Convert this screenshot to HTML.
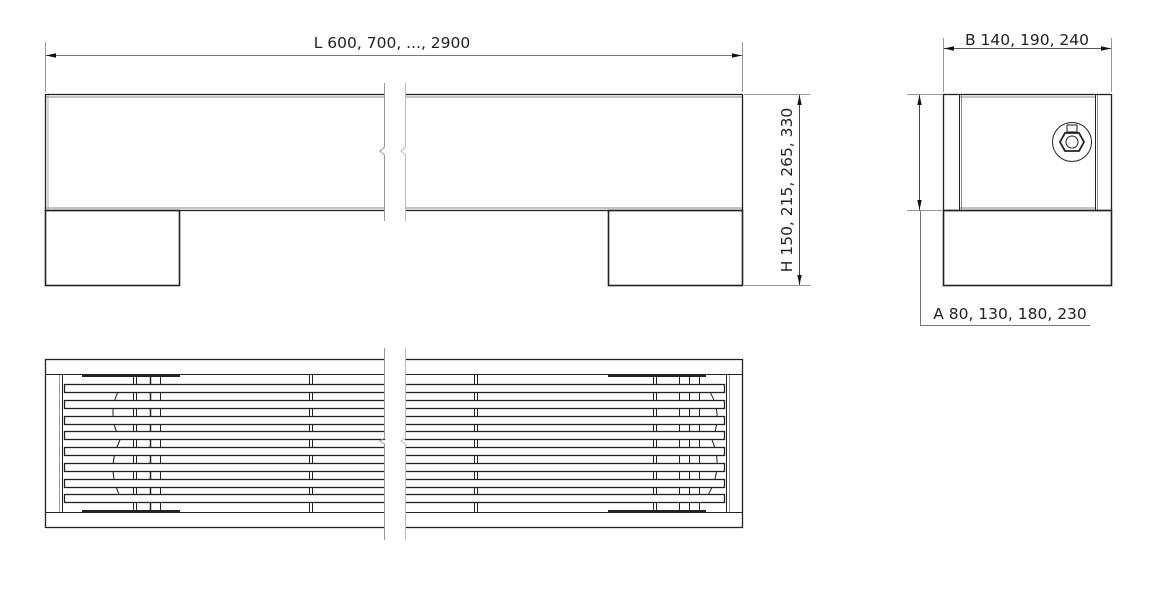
<!DOCTYPE html>
<html><head><meta charset="utf-8"><style>
html,body{margin:0;padding:0;background:#fff;}
svg{display:block;}
text{font-family:"DejaVu Sans","Liberation Sans",sans-serif;font-size:15.5px;fill:#222;}
</style></head><body>
<svg width="1170" height="596" viewBox="0 0 1170 596" xmlns="http://www.w3.org/2000/svg">
<defs>
<marker id="a" markerWidth="10" markerHeight="6" refX="10" refY="3" orient="auto-start-reverse" markerUnits="userSpaceOnUse"><path d="M0,0.8 L10,3 L0,5.2 z" fill="#111"/></marker>
</defs>
<g fill="none" stroke="#999" stroke-width="1">
 <line x1="45.5" y1="42" x2="45.5" y2="92"/>
 <line x1="742.5" y1="42" x2="742.5" y2="92"/>
 <line x1="46" y1="55.5" x2="742" y2="55.5" marker-start="url(#a)" marker-end="url(#a)" stroke="#777"/>
 <line x1="744" y1="94.5" x2="810" y2="94.5"/>
 <line x1="744" y1="285.5" x2="810" y2="285.5"/>
 <line x1="799.5" y1="95" x2="799.5" y2="285" marker-start="url(#a)" marker-end="url(#a)" stroke="#444"/>
</g>
<text x="392" y="48" text-anchor="middle">L 600, 700, ..., 2900</text>
<text transform="translate(792,190) rotate(-90)" text-anchor="middle">H 150, 215, 265, 330</text>

<g stroke="#222" fill="none">
 <rect x="45.5" y="94.5" width="697" height="116" stroke-width="1.3"/>
 <line x1="46" y1="97" x2="742" y2="97" stroke="#888"/>
 <line x1="46" y1="208" x2="742" y2="208" stroke="#888"/>
 <line x1="48" y1="95" x2="48" y2="210" stroke="#aaa"/>
 <rect x="45.5" y="210.5" width="134" height="75" stroke-width="1.6"/>
 <rect x="608.5" y="210.5" width="134" height="75" stroke-width="1.6"/>
</g>
<rect x="385" y="80" width="20" height="145" fill="#fff"/>
<g stroke="#999" fill="none" stroke-width="1">
 <path d="M384.5,83 V147 L380,151 L384.5,155 V221"/>
 <path d="M405.5,83 V147 L401,151 L405.5,155 V221" stroke="#bbb"/>
</g>

<g fill="none" stroke="#999">
 <line x1="943.5" y1="38" x2="943.5" y2="92"/>
 <line x1="1111.5" y1="38" x2="1111.5" y2="92"/>
 <line x1="944" y1="48.5" x2="1111" y2="48.5" marker-start="url(#a)" marker-end="url(#a)" stroke="#555"/>
 <line x1="907" y1="94.5" x2="942" y2="94.5"/>
 <line x1="907" y1="210.5" x2="942" y2="210.5"/>
 <line x1="919.5" y1="95" x2="919.5" y2="210" marker-start="url(#a)" marker-end="url(#a)" stroke="#444"/>
 <line x1="920.5" y1="211" x2="920.5" y2="325.5" stroke="#777"/>
 <line x1="920" y1="325.5" x2="1090" y2="325.5" stroke="#777"/>
</g>
<text x="1027" y="45" text-anchor="middle">B 140, 190, 240</text>
<text x="1010" y="319" text-anchor="middle">A 80, 130, 180, 230</text>
<g stroke="#222" fill="none">
 <rect x="943.5" y="94.5" width="168" height="116" stroke-width="1.3"/>
 <line x1="959.5" y1="95" x2="959.5" y2="210"/>
 <line x1="961.5" y1="95" x2="961.5" y2="210" stroke="#888"/>
 <line x1="1095.5" y1="95" x2="1095.5" y2="210"/>
 <line x1="1097.5" y1="95" x2="1097.5" y2="210" stroke="#888"/>
 <line x1="960" y1="97" x2="1095" y2="97" stroke="#888"/>
 <line x1="960" y1="208" x2="1095" y2="208" stroke="#888"/>
 <rect x="943.5" y="210.5" width="168" height="75" stroke-width="1.6"/>
 <circle cx="1072" cy="142" r="19.5" stroke-width="1"/>
 <polygon points="1065,133 1079,133 1084,142 1079,151 1065,151 1060,142" stroke-width="1.8"/>
 <circle cx="1072" cy="142" r="6"/>
 <rect x="1067" y="125" width="10" height="7" stroke-width="1"/>
</g>

<g stroke="#222" fill="none">
 <rect x="45.5" y="359.5" width="697" height="168" stroke-width="1.3"/>
 <line x1="46" y1="374.5" x2="742" y2="374.5"/>
 <line x1="46" y1="512.5" x2="742" y2="512.5"/>
 <line x1="62.5" y1="375" x2="62.5" y2="512"/>
 <line x1="59.5" y1="375" x2="59.5" y2="512" stroke="#999"/>
 <line x1="726.5" y1="375" x2="726.5" y2="512"/>
 <line x1="729.5" y1="375" x2="729.5" y2="512" stroke="#999"/>
 <line x1="82" y1="376" x2="180" y2="376" stroke-width="2"/>
 <line x1="82" y1="511" x2="180" y2="511" stroke-width="2"/>
 <line x1="608" y1="376" x2="706" y2="376" stroke-width="2"/>
 <line x1="608" y1="511" x2="706" y2="511" stroke-width="2"/>
 <line x1="309.5" y1="375" x2="309.5" y2="512"/><line x1="312.5" y1="375" x2="312.5" y2="512"/>
 <line x1="474.5" y1="375" x2="474.5" y2="512"/><line x1="477.5" y1="375" x2="477.5" y2="512"/>
 <line x1="653.5" y1="375" x2="653.5" y2="512"/><line x1="656.5" y1="375" x2="656.5" y2="512"/>
 <line x1="133.5" y1="375" x2="133.5" y2="512"/><line x1="136.5" y1="375" x2="136.5" y2="512"/>
 <line x1="150.5" y1="375" x2="150.5" y2="512" stroke-width="1.5"/><line x1="160.5" y1="375" x2="160.5" y2="512"/>
 <line x1="679.5" y1="375" x2="679.5" y2="512"/><line x1="689.5" y1="375" x2="689.5" y2="512"/><line x1="699.5" y1="375" x2="699.5" y2="512"/>
 <path d="M122,385 Q105,410 120,440 Q105,470 122,500" stroke-width="1"/>
 <path d="M705,385 Q725,410 712,440 Q725,470 705,500" stroke-width="1"/>
</g>
<g stroke="#222" fill="#fff" stroke-width="1.3">
 <rect x="64.5" y="384.5" width="660" height="8"/>
 <rect x="64.5" y="400.5" width="660" height="8"/>
 <rect x="64.5" y="416.5" width="660" height="8"/>
 <rect x="64.5" y="431.5" width="660" height="8"/>
 <rect x="64.5" y="447.5" width="660" height="8"/>
 <rect x="64.5" y="463.5" width="660" height="8"/>
 <rect x="64.5" y="479.5" width="660" height="8"/>
 <rect x="64.5" y="494.5" width="660" height="8"/>
</g>
<rect x="385" y="346" width="20" height="196" fill="#fff"/>
<g stroke="#999" fill="none">
 <path d="M384.5,348 V438 L380,441 L384.5,444 V540"/>
 <path d="M405.5,348 V438 L401,441 L405.5,444 V540" stroke="#bbb"/>
</g>
</svg>
</body></html>
